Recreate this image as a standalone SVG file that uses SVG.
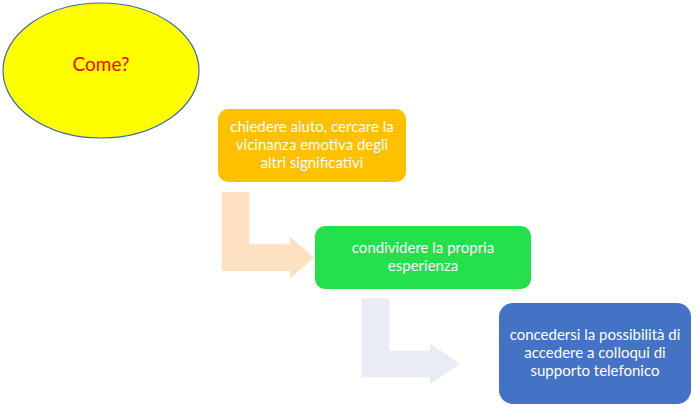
<svg xmlns="http://www.w3.org/2000/svg" width="700" height="420" viewBox="0 0 700 420">
<style>
  .lbl { font-family: Lato, "Open Sans", "Liberation Sans", sans-serif; font-size: 15px; fill: #FFFFFF; text-anchor: middle; }
  .title { font-family: Lato, "Open Sans", "Liberation Sans", sans-serif; font-size: 19px; fill: #FF0000; text-anchor: middle; }
</style>
<rect width="700" height="420" fill="#FFFFFF"/>
<g id="connectors">
  <path d="M221.7,191.7 H249.3 V244.3 H290 V236.7 L314,257.7 L290,278.3 V271 H221.7 Z" fill="#FDE1C1"/>
  <path d="M361.7,298.3 H389.3 V350.7 H430 V343.3 L460,364 L430,384 V377.3 H361.7 Z" fill="#E9EBF5"/>
</g>
<g id="node-come">
  <ellipse cx="101" cy="70.5" rx="98" ry="67.5" fill="#FFFF00" stroke="#3F67B0" stroke-width="1.2"/>
  <text class="title" x="101" y="71">Come?</text>
</g>
<g id="node-chiedere">
  <rect x="218" y="109" width="188" height="73" rx="10" fill="#FFC000"/>
  <text class="lbl" x="312" y="132">chiedere aiuto, cercare la</text>
  <text class="lbl" x="312" y="150">vicinanza emotiva degli</text>
  <text class="lbl" x="312" y="168">altri significativi</text>
</g>
<g id="node-condividere">
  <rect x="315" y="226" width="216" height="63" rx="10" fill="#24E04B"/>
  <text class="lbl" x="423" y="253">condividere la propria</text>
  <text class="lbl" x="423" y="271">esperienza</text>
</g>
<g id="node-concedersi">
  <rect x="499" y="303" width="192" height="101" rx="14" fill="#4472C4"/>
  <text class="lbl" x="595" y="340">concedersi la possibilità di</text>
  <text class="lbl" x="595" y="358">accedere a colloqui di</text>
  <text class="lbl" x="595" y="376">supporto telefonico</text>
</g>
</svg>
